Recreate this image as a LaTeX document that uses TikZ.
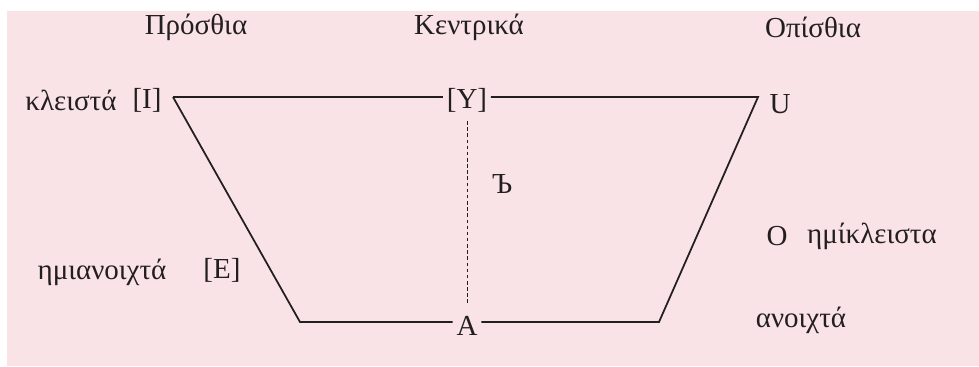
\documentclass[tikz,border=0pt]{standalone}
\usepackage{fontspec}
\setmainfont{Liberation Serif}
\usetikzlibrary{positioning}
\definecolor{bgpink}{RGB}{249,227,230}
\definecolor{ink}{RGB}{35,31,32}
\tikzset{
  vowel/.style={inner sep=2pt, text=ink},
  lab/.style={inner sep=1pt, text=ink},
  edge/.style={draw=ink, line width=1pt},
  guide/.style={draw=ink, dashed, line width=0.5pt, dash pattern=on 2pt off 1.5pt},
}
\begin{document}
\begin{tikzpicture}[x=0.02cm, y=-0.02cm, font=\fontsize{16.5}{19}\selectfont]

\useasboundingbox (0,0) rectangle (979,366);
\fill[bgpink] (7,11) rectangle (979,366);

% headings
\node[lab] (front) at (196,27) {Πρόσθια};
\node[lab] (central) at (469,27) {Κεντρικά};
\node[lab] (back) at (813,27) {Οπίσθια};

% corners of the chart
\coordinate (tl) at (173,97);
\coordinate (tr) at (758,97);
\coordinate (bl) at (300,322);
\coordinate (br) at (659,322);

% vowels
\node[vowel] (I) at (147,100) {[I]};
\node[vowel] (Y) at (467,100) {[Y]};
\node[vowel] (U) at (780,104) {U};
\node[vowel] (E) at (222,270) {[E]};
\node[vowel] (A) at (467,326) {A};
\node[vowel] (O) at (777,236) {O};
\node[vowel] (yer) at (502,184) {Ъ};

% row labels
\node[lab] (closed) at (71,100) {κλειστά};
\node[lab] (halfopen) at (102,272) {ημιανοιχτά};
\node[lab] (halfclosed) at (872,236) {ημίκλειστα};
\node[lab] (open) at (801,320) {ανοιχτά};

\draw[edge] (tl) -- (Y.west |- tl);
\draw[edge] (Y.east |- tr) -- (tr) -- (br) -- (A.east |- br);
\draw[edge] (A.west |- bl) -- (bl) -- (tl);
\draw[guide] ([yshift=-3pt]Y.south) -- ([yshift=4pt]A.north);

\end{tikzpicture}
\end{document}
